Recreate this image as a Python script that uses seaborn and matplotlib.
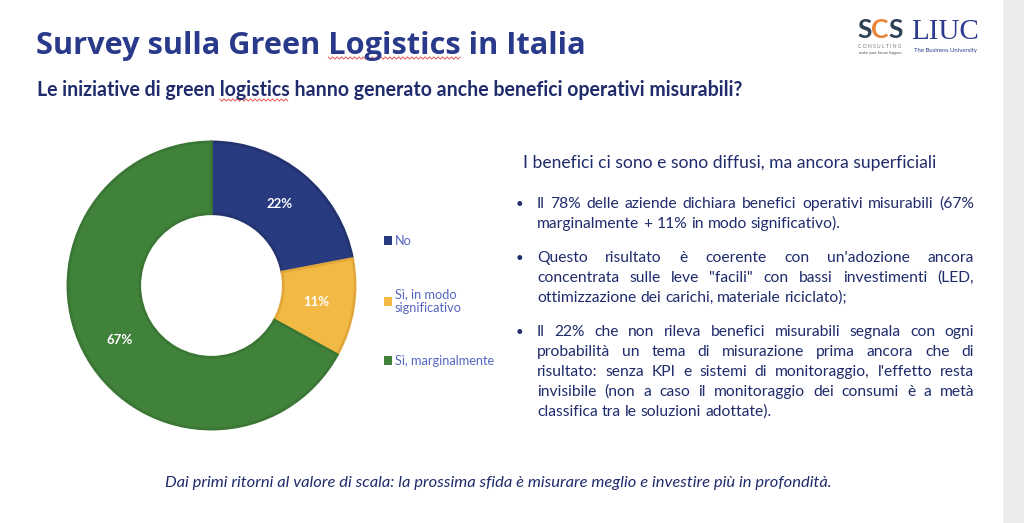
import matplotlib
matplotlib.use("Agg")
import matplotlib.pyplot as plt
import seaborn as sns
from matplotlib import font_manager
from matplotlib.patches import Patch, Rectangle

# data
categories = ["No", "Sì, in modo\nsignificativo", "Sì, marginalmente"]
shares = [22, 11, 67]
colors = ["#283a80", "#f3b945", "#41823a"]
edge_colors = ["#22336f", "#e2a73a", "#3a7634"]

title = "Survey sulla Green Logistics in Italia"
subtitle = "Le iniziative di green logistics hanno generato anche benefici operativi misurabili?"
heading = "I benefici ci sono e sono diffusi, ma ancora superficiali"
bullets = [
    ["Il 78% delle aziende dichiara benefici operativi misurabili (67%",
     "marginalmente + 11% in modo significativo)."],
    ["Questo risultato è coerente con un'adozione ancora",
     "concentrata sulle leve \"facili\" con bassi investimenti (LED,",
     "ottimizzazione dei carichi, materiale riciclato);"],
    ["Il 22% che non rileva benefici misurabili segnala con ogni",
     "probabilità un tema di misurazione prima ancora che di",
     "risultato: senza KPI e sistemi di monitoraggio, l'effetto resta",
     "invisibile (non a caso il monitoraggio dei consumi è a metà",
     "classifica tra le soluzioni adottate)."],
]
footer = "Dai primi ritorni al valore di scala: la prossima sfida è misurare meglio e investire più in profondità."

sns.set_theme(style="white")
plt.rcParams["font.family"] = ["Lato", "DejaVu Sans"]

installed = {f.name for f in font_manager.fontManager.ttflist}
narrow = "Liberation Sans Narrow" if "Liberation Sans Narrow" in installed else "Lato"

W, H = 1024, 523
navy = "#2a3a8a"
dark_navy = "#1f2b6b"

fig = plt.figure(figsize=(W / 100, H / 100), dpi=100)
fig.patch.set_facecolor("white")

# overlay in pixel coordinates for the slide texts
ov = fig.add_axes([0, 0, 1, 1])
ov.set_xlim(0, W)
ov.set_ylim(H, 0)
ov.axis("off")
ov.add_patch(Rectangle((1003, 0), W - 1003, H, color="#ececec", lw=0))

renderer = fig.canvas.get_renderer()


def text_width(s, **kw):
    t = ov.text(0, 0, s, **kw)
    w = t.get_window_extent(renderer).width
    t.remove()
    return w


def fit_size(s, target, **kw):
    return 10 * target / text_width(s, fontsize=10, **kw)


def squiggle(x0, x1, y):
    xs, ys, x, k = [], [], x0, 0
    while x <= x1:
        xs.append(x)
        ys.append(y + (1.2 if k % 2 else -1.2))
        x += 2.2
        k += 1
    ov.plot(xs, ys, color="#e0443e", lw=0.6)


# title + subtitle
tkw = dict(family="Open Sans", weight="bold", color=navy)
ts = fit_size(title, 553, **tkw)
ov.text(36, 54, title, fontsize=ts, va="baseline", **tkw)
x0 = 36 + text_width("Survey sulla Green ", fontsize=ts, **tkw)
squiggle(x0, x0 + text_width("Logistics", fontsize=ts, **tkw), 58)

skw = dict(family=narrow, weight="bold", color=dark_navy)
ss = fit_size(subtitle, 706, **skw)
ov.text(37, 96, subtitle, fontsize=ss, va="baseline", **skw)
x0 = 37 + text_width("Le iniziative di green ", fontsize=ss, **skw)
squiggle(x0, x0 + text_width("logistics", fontsize=ss, **skw), 100)

# logos
lkw = dict(family="Lato", weight="bold", va="baseline")
ls = fit_size("SCS", 46, **lkw)
x = 857
for ch, c in zip("SCS", ["#2e4155", "#e8843a", "#2e4155"]):
    ov.text(x, 38, ch, fontsize=ls, color=c, **lkw)
    x += text_width(ch, fontsize=ls, **lkw)
ov.text(880, 48, "C O N S U L T I N G", fontsize=3.6, color="#6f7b87", ha="center", va="baseline")
ov.text(880, 54, "make your future happen", fontsize=2.8, color="#4a5560", ha="center", va="baseline")
ov.text(911, 39, "LIUC", fontsize=fit_size("LIUC", 68, family="Liberation Serif"),
        family="Liberation Serif", color="#2b3a8f", va="baseline")
ov.text(946, 52, "The Business University", fontsize=4.3, color="#2b3a8f", ha="center", va="baseline")

# right text block
hs = fit_size(heading, 413)
ov.text(523, 168, heading, fontsize=hs, color=dark_navy, va="baseline")

bs = fit_size("marginalmente + 11% in modo significativo).", 304)
space = text_width("a a", fontsize=bs) - text_width("aa", fontsize=bs)
left, right = 537, 974
y = 208
for para in bullets:
    ov.text(516, y, "•", fontsize=bs * 0.85, color=dark_navy, va="baseline")
    for i, line in enumerate(para):
        words = line.split(" ")
        widths = [text_width(w, fontsize=bs) for w in words]
        last = i == len(para) - 1
        gap = space if last else max(space * 0.6, (right - left - sum(widths)) / (len(words) - 1))
        x = left
        for w, wd in zip(words, widths):
            ov.text(x, y, w, fontsize=bs, color=dark_navy, va="baseline")
            x += wd + gap
        y += 20
    y += 14

# footer
fkw = dict(family="Lato", style="italic", color=dark_navy)
fs = fit_size(footer, 667, **fkw)
ov.text(498, 487, footer, fontsize=fs, ha="center", va="baseline", **fkw)

# donut
cx, cy, r = 211.5, 285.5, 145
ax = fig.add_axes([(cx - r) / W, (H - cy - r) / H, 2 * r / W, 2 * r / H])
wedges, texts, autotexts = ax.pie(
    shares, colors=colors, startangle=90, counterclock=False,
    autopct=lambda p: f"{p:.0f}%", pctdistance=0.74,
    wedgeprops=dict(width=0.5, linewidth=2),
    textprops=dict(color="white", fontsize=9.5, weight="bold", family="Lato"),
)
for w, ec in zip(wedges, edge_colors):
    w.set_edgecolor(ec)
ax.set_xlim(-1.01, 1.01)
ax.set_ylim(-1.01, 1.01)
ax.set_aspect("equal")

handles = [Patch(facecolor=c, edgecolor="none") for c in colors]
fig.legend(handles, categories, loc="center left", bbox_to_anchor=(372 / W, 1 - 301 / H),
           frameon=False, fontsize=9.2, labelcolor="#5566c2",
           handlelength=0.65, handleheight=0.65, handletextpad=0.25, labelspacing=3.2)

fig.savefig("out.png", dpi=100)
